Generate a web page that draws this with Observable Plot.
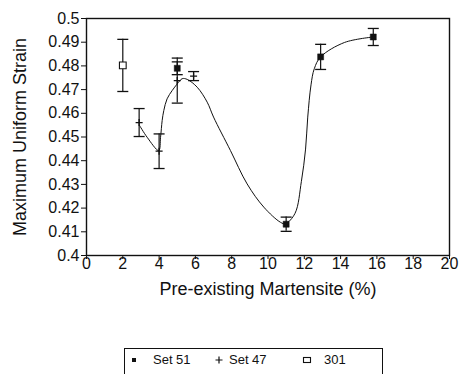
<!DOCTYPE html>
<html><head><meta charset="utf-8">
<script src="https://cdn.jsdelivr.net/npm/d3@7"></script>
<script src="https://cdn.jsdelivr.net/npm/@observablehq/plot@0.6"></script>
<style>
html,body{margin:0;padding:0;background:#fff;overflow:hidden;}
body{width:460px;height:374px;position:relative;font-family:"Liberation Sans",Arial,sans-serif;color:#111;}
#chart{position:absolute;left:0;top:0;}
#legend{position:absolute;left:124px;top:348px;width:259px;height:34px;border:1.5px solid #111;box-sizing:border-box;font-size:13px;}
#legend span{position:absolute;top:3px;white-space:nowrap;}
#legend svg{position:absolute;}
</style>
</head><body>
<div id="chart"></div>
<div id="legend"></div>
<script>
// Axis ticks
const xTicks = [0, 2, 4, 6, 8, 10, 12, 14, 16, 18, 20];
const yTicks = [0.4, 0.41, 0.42, 0.43, 0.44, 0.45, 0.46, 0.47, 0.48, 0.49, 0.5];
const yTickLabels = ["0.4", "0.41", "0.42", "0.43", "0.44", "0.45", "0.46", "0.47", "0.48", "0.49", "0.5"];
const xLabel = "Pre-existing Martensite (%)";
const yLabel = "Maximum Uniform Strain";

// Set 51 (filled squares)
const set51X = [5, 11, 12.9, 15.8];
const set51Y = [0.479, 0.4132, 0.4838, 0.4922];
const set51Err = [0.0027, 0.003, 0.0053, 0.0036];

// Set 47 (plus)
const set47X = [2.9, 4.0, 5.0, 5.9];
const set47Y = [0.4561, 0.4440, 0.4738, 0.4757];
const set47Err = [0.0059, 0.0073, 0.0095, 0.0019];

// 301 (open square)
const s301X = [2];
const s301Y = [0.4802];
const s301Err = [0.011];

// Fitted curve
const fitX = [2.92, 3.34, 3.98, 4.08, 4.17, 4.26, 4.44, 4.72, 5.0, 5.27, 5.55, 6.1, 6.65, 7.0, 7.93, 8.85, 9.77, 10.69, 10.96, 11.49, 11.84, 12.07, 12.19, 12.37, 12.55, 12.9, 14.22, 15.8];
const fitY = [0.4549, 0.4499, 0.4443, 0.4499, 0.4570, 0.4612, 0.4661, 0.4696, 0.4724, 0.4746, 0.4743, 0.4710, 0.4647, 0.4584, 0.4443, 0.4302, 0.4204, 0.4140, 0.4134, 0.4178, 0.4313, 0.4449, 0.4584, 0.4720, 0.4788, 0.4838, 0.4899, 0.4922];

const mk = (xs, ys, es) => xs.map((x, i) => ({x, y: ys[i], lo: ys[i] - es[i], hi: ys[i] + es[i]}));
const set51 = mk(set51X, set51Y, set51Err);
const set47 = mk(set47X, set47Y, set47Err);
const s301 = mk(s301X, s301Y, s301Err);
const fit = fitX.map((x, i) => ({x, y: fitY[i]}));
const allBars = [...set51, ...set47, ...s301];

const cap = {draw(ctx, size) { const r = Math.sqrt(size / Math.PI); ctx.moveTo(-r, 0); ctx.lineTo(r, 0); }};

const font = '"Liberation Sans", Arial, sans-serif';
const chart = Plot.plot({
  width: 460, height: 320,
  marginLeft: 86, marginRight: 11, marginTop: 18, marginBottom: 65,
  style: {fontFamily: font, fontSize: "16px", color: "#111", background: "#fff"},
  x: {domain: [0, 20]},
  y: {domain: [0.4, 0.5]},
  marks: [
    Plot.axisX({ticks: xTicks, tickSize: 4, tickPadding: -2, fontSize: 16, label: null}),
    Plot.axisX({ticks: [], tickSize: 0, fontSize: 18, label: xLabel, labelArrow: "none", labelAnchor: "center", labelOffset: 39}),
    Plot.axisY({ticks: yTicks, tickSize: 5, tickPadding: 2, fontSize: 16, tickFormat: (d, i) => yTickLabels[i], label: null}),
    Plot.axisY({ticks: [], tickSize: 0, fontSize: 18, label: yLabel, labelArrow: "none", labelAnchor: "center", labelOffset: 73}),
    Plot.frame({stroke: "#111", strokeWidth: 1.4}),
    Plot.line(fit, {x: "x", y: "y", curve: "catmull-rom", stroke: "#111", strokeWidth: 1}),
    Plot.ruleX(allBars, {x: "x", y1: "lo", y2: "hi", stroke: "#111", strokeWidth: 1.2}),
    Plot.dot(allBars, {x: "x", y: "lo", symbol: cap, r: 5.5, stroke: "#111", strokeWidth: 1.3}),
    Plot.dot(allBars, {x: "x", y: "hi", symbol: cap, r: 5.5, stroke: "#111", strokeWidth: 1.3}),
    Plot.dot(set47, {x: "x", y: "y", symbol: "plus", r: 2.4, stroke: "#111", strokeWidth: 1.3}),
    Plot.dot(set51, {x: "x", y: "y", symbol: "square", r: 3.4, fill: "#111", stroke: "#111", strokeWidth: 0.5}),
    Plot.dot(s301, {x: "x", y: "y", symbol: "square", r: 3.8, fill: "#fff", stroke: "#111", strokeWidth: 1.1})
  ]
});
document.getElementById("chart").appendChild(chart);

// Legend
const legendItems = [
  {label: "Set 51", sym: "fsq", symX: 3, textX: 28},
  {label: "Set 47", sym: "plus", symX: 88, textX: 104},
  {label: "301", sym: "osq", symX: 176, textX: 199}
];
const lg = document.getElementById("legend");
for (const it of legendItems) {
  const s = document.createElementNS("http://www.w3.org/2000/svg", "svg");
  s.setAttribute("width", 12); s.setAttribute("height", 12);
  s.style.left = it.symX + "px"; s.style.top = "5px";
  let inner = "";
  if (it.sym === "fsq") inner = '<rect x="4" y="4" width="4" height="4" fill="#111"/>';
  if (it.sym === "plus") inner = '<path d="M6,2.5V9.5M2.5,6H9.5" stroke="#111" stroke-width="1.2"/>';
  if (it.sym === "osq") inner = '<rect x="2.5" y="3.5" width="7" height="5" fill="none" stroke="#111" stroke-width="1.1"/>';
  s.innerHTML = inner;
  lg.appendChild(s);
  const t = document.createElement("span");
  t.textContent = it.label;
  t.style.left = it.textX + "px";
  lg.appendChild(t);
}
</script>
</body></html>
